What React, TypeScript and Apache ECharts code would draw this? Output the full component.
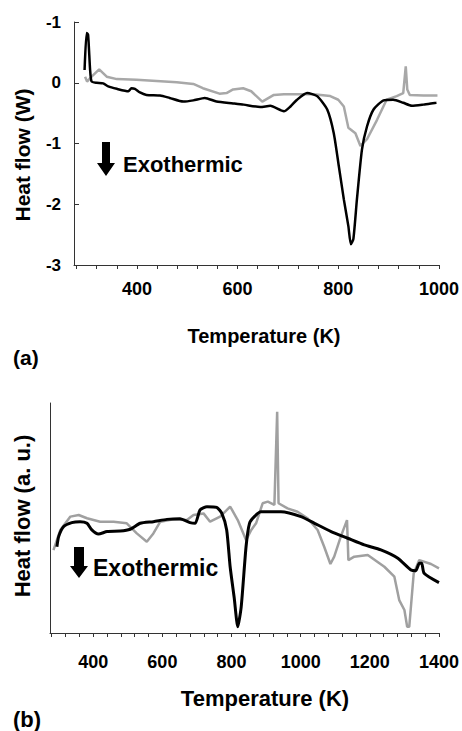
import React, { useEffect, useRef } from "react";
import * as echarts from "echarts";

// ---- Panel (a) data ----
const blackA_T = [296, 300, 303, 307, 310, 320, 333, 343, 360, 383, 389, 396, 406, 419, 446, 465, 492, 512, 535, 558, 591, 612, 645, 665, 692, 705, 718, 738, 758, 778, 791, 801, 811, 820, 825, 830, 837, 847, 857, 870, 890, 909, 929, 946, 969, 995];
const blackA_V = [0.21, 0.82, 0.79, 0.21, 0.02, 0.0, -0.01, -0.06, -0.10, -0.14, -0.09, -0.10, -0.16, -0.20, -0.21, -0.25, -0.31, -0.29, -0.25, -0.31, -0.34, -0.36, -0.40, -0.38, -0.47, -0.39, -0.28, -0.17, -0.22, -0.44, -0.83, -1.37, -1.92, -2.36, -2.66, -2.57, -1.92, -1.10, -0.72, -0.44, -0.29, -0.28, -0.33, -0.38, -0.36, -0.33];
const grayA_T = [297, 301, 310, 325, 340, 360, 399, 439, 479, 512, 531, 564, 578, 591, 611, 627, 649, 672, 692, 751, 784, 800, 811, 820, 834, 844, 857, 877, 896, 916, 929, 934, 937, 942, 969, 997];
const grayA_V = [0.10, 0.02, 0.10, 0.22, 0.10, 0.06, 0.05, 0.03, 0.01, -0.02, -0.09, -0.18, -0.17, -0.11, -0.09, -0.14, -0.31, -0.20, -0.19, -0.19, -0.22, -0.28, -0.39, -0.74, -0.83, -1.04, -0.93, -0.61, -0.28, -0.22, -0.17, 0.27, -0.11, -0.20, -0.21, -0.21];

// ---- Panel (b) data ----
const blackB_T = [295, 300, 314, 338, 362, 382, 396, 415, 440, 478, 507, 536, 574, 613, 651, 680, 695, 709, 729, 757, 772, 786, 796, 808, 818, 828, 842, 852, 866, 885, 943, 1001, 1040, 1088, 1136, 1184, 1232, 1281, 1319, 1333, 1343, 1350, 1357, 1400];
const blackB_V = [37.5, 41.9, 46.2, 48, 48.4, 47.7, 44.8, 43, 44.1, 44.3, 45.1, 47.7, 48.4, 49.4, 49.7, 48, 47.7, 53.5, 54.9, 54.6, 52, 44.8, 28.8, 15, 2.7, 11.4, 37.5, 47.7, 50.6, 52.7, 52.7, 50.6, 47.7, 44.1, 41.2, 38.3, 36.1, 32.5, 27.4, 27.1, 30.3, 30.3, 26, 21.9];
const grayB_T = [285, 305, 334, 358, 382, 420, 459, 497, 526, 555, 574, 594, 632, 671, 690, 719, 738, 767, 796, 799, 818, 842, 857, 871, 890, 905, 924, 932, 936, 962, 991, 1020, 1049, 1068, 1086, 1097, 1116, 1134, 1138, 1155, 1194, 1242, 1271, 1285, 1300, 1308, 1314, 1327, 1343, 1377, 1400];
const grayB_V = [36, 44.8, 50.6, 51.3, 49.9, 48.4, 48.4, 47.7, 43.3, 39.7, 43.3, 48.4, 49.4, 49.1, 51.3, 52, 48.4, 50.6, 54.9, 54.2, 49.1, 40.4, 44.8, 47.7, 56.4, 57.1, 55.7, 96.2, 56.4, 54.2, 52.7, 49.9, 44.8, 37.5, 30, 33.2, 41.9, 49.1, 31.7, 33.2, 33.9, 28.8, 24.5, 14.3, 10, 2.7, 2.7, 26, 31.7, 30, 28.1];

// ---- Ticks and labels ----
const xTicksA = [280, 320, 360, 400, 440, 480, 520, 560, 600, 640, 680, 720, 760, 800, 840, 880, 920, 960, 1000];
const xLabelsA = [400, 600, 800, 1000];
const xTicksB = [280, 320, 360, 400, 440, 480, 520, 560, 600, 640, 680, 720, 760, 800, 840, 880, 920, 960, 1000, 1040, 1080, 1120, 1160, 1200, 1240, 1280, 1320, 1360, 1400];
const xLabelsB = [400, 600, 800, 1000, 1200, 1400];
const yTickValuesA = [-3, -2, -1, 0, 1];
const yTickLabelsA = ["-3", "-2", "-1", "0", "-1"];

const FONT = "'Liberation Sans', Arial, sans-serif";

const zip = (t: number[], v: number[]) => t.map((x, i) => [x, v[i]]);

export default function App() {
  const ref = useRef<HTMLDivElement>(null);
  useEffect(() => {
    document.body.style.margin = "0";
    const chart = echarts.init(ref.current!, null, { renderer: "svg" });
    const axisLine = { show: true, onZero: false, lineStyle: { color: "#333", width: 1 } };
    const labelStyle = { fontFamily: FONT, fontWeight: "bold" as const, color: "#000" };
    const option: any = {
      animation: false,
      backgroundColor: "#fff",
      grid: [
        { left: 74, top: 22, width: 366, height: 243 },
        { left: 50, top: 403, width: 389, height: 230 },
      ],
      xAxis: [
        {
          gridIndex: 0, type: "value", min: 275, max: 1000,
          axisLine,
          axisTick: { show: true, inside: false, length: 4, customValues: xTicksA, lineStyle: { color: "#333" } },
          axisLabel: { customValues: xLabelsA, margin: 15, fontSize: 18, ...labelStyle, formatter: (v: number) => String(v) },
          splitLine: { show: false },
        },
        {
          gridIndex: 1, type: "value", min: 275, max: 1400,
          axisLine,
          axisTick: { show: true, inside: false, length: 4, customValues: xTicksB, lineStyle: { color: "#333" } },
          axisLabel: { customValues: xLabelsB, margin: 20, fontSize: 18, ...labelStyle, formatter: (v: number) => String(v) },
          splitLine: { show: false },
        },
      ],
      yAxis: [
        {
          gridIndex: 0, type: "value", min: -3, max: 1, interval: 1,
          axisLine,
          axisTick: { show: true, inside: true, length: 5, lineStyle: { color: "#333" } },
          axisLabel: {
            margin: 13, fontSize: 17, ...labelStyle,
            formatter: (v: number) => {
              const i = yTickValuesA.indexOf(Math.round(v));
              return i >= 0 ? yTickLabelsA[i] : "";
            },
          },
          splitLine: { show: false },
        },
        {
          gridIndex: 1, type: "value", min: 0, max: 100,
          axisLine,
          axisTick: { show: false },
          axisLabel: { show: false },
          splitLine: { show: false },
        },
      ],
      series: [
        { type: "line", xAxisIndex: 0, yAxisIndex: 0, data: zip(grayA_T, grayA_V), showSymbol: false, lineStyle: { color: "#a8a8a8", width: 2.5 }, z: 2 },
        { type: "line", xAxisIndex: 0, yAxisIndex: 0, data: zip(blackA_T, blackA_V), showSymbol: false, smooth: 0.2, lineStyle: { color: "#000", width: 2.5 }, z: 3 },
        { type: "line", xAxisIndex: 1, yAxisIndex: 1, data: zip(grayB_T, grayB_V), showSymbol: false, lineStyle: { color: "#a0a0a0", width: 2.5 }, z: 2 },
        { type: "line", xAxisIndex: 1, yAxisIndex: 1, data: zip(blackB_T, blackB_V), showSymbol: false, smooth: 0.2, lineStyle: { color: "#000", width: 3 }, z: 3 },
      ],
      graphic: [
        { type: "text", x: 22, y: 155, rotation: Math.PI / 2, style: { text: "Heat flow (W)", fontSize: 21, ...labelStyle, fill: "#000", align: "center", verticalAlign: "middle" } },
        { type: "text", x: 264, y: 336, style: { text: "Temperature (K)", fontSize: 20, ...labelStyle, fill: "#000", align: "center", verticalAlign: "middle" } },
        { type: "text", x: 13, y: 357, style: { text: "(a)", fontSize: 21, ...labelStyle, fill: "#000", align: "left", verticalAlign: "middle" } },
        { type: "polygon", shape: { points: [[102, 142], [110, 142], [110, 163], [115, 163], [106, 176], [97, 163], [102, 163]] }, style: { fill: "#000" } },
        { type: "text", x: 123, y: 164, style: { text: "Exothermic", fontSize: 22, ...labelStyle, fill: "#000", align: "left", verticalAlign: "middle" } },

        { type: "text", x: 22, y: 516, rotation: Math.PI / 2, style: { text: "Heat flow (a. u.)", fontSize: 22, ...labelStyle, fill: "#000", align: "center", verticalAlign: "middle" } },
        { type: "text", x: 265, y: 698, style: { text: "Temperature (K)", fontSize: 22, ...labelStyle, fill: "#000", align: "center", verticalAlign: "middle" } },
        { type: "text", x: 13, y: 719, style: { text: "(b)", fontSize: 22, ...labelStyle, fill: "#000", align: "left", verticalAlign: "middle" } },
        { type: "polygon", shape: { points: [[74, 547], [84, 547], [84, 566], [88, 566], [79, 578], [70, 566], [74, 566]] }, style: { fill: "#000" } },
        { type: "text", x: 93, y: 568, style: { text: "Exothermic", fontSize: 23, ...labelStyle, fill: "#000", align: "left", verticalAlign: "middle" } },
      ],
    };
    chart.setOption(option);
    return () => chart.dispose();
  }, []);
  return <div ref={ref} style={{ width: 462, height: 731, position: "absolute", left: 0, top: 0 }} />;
}
